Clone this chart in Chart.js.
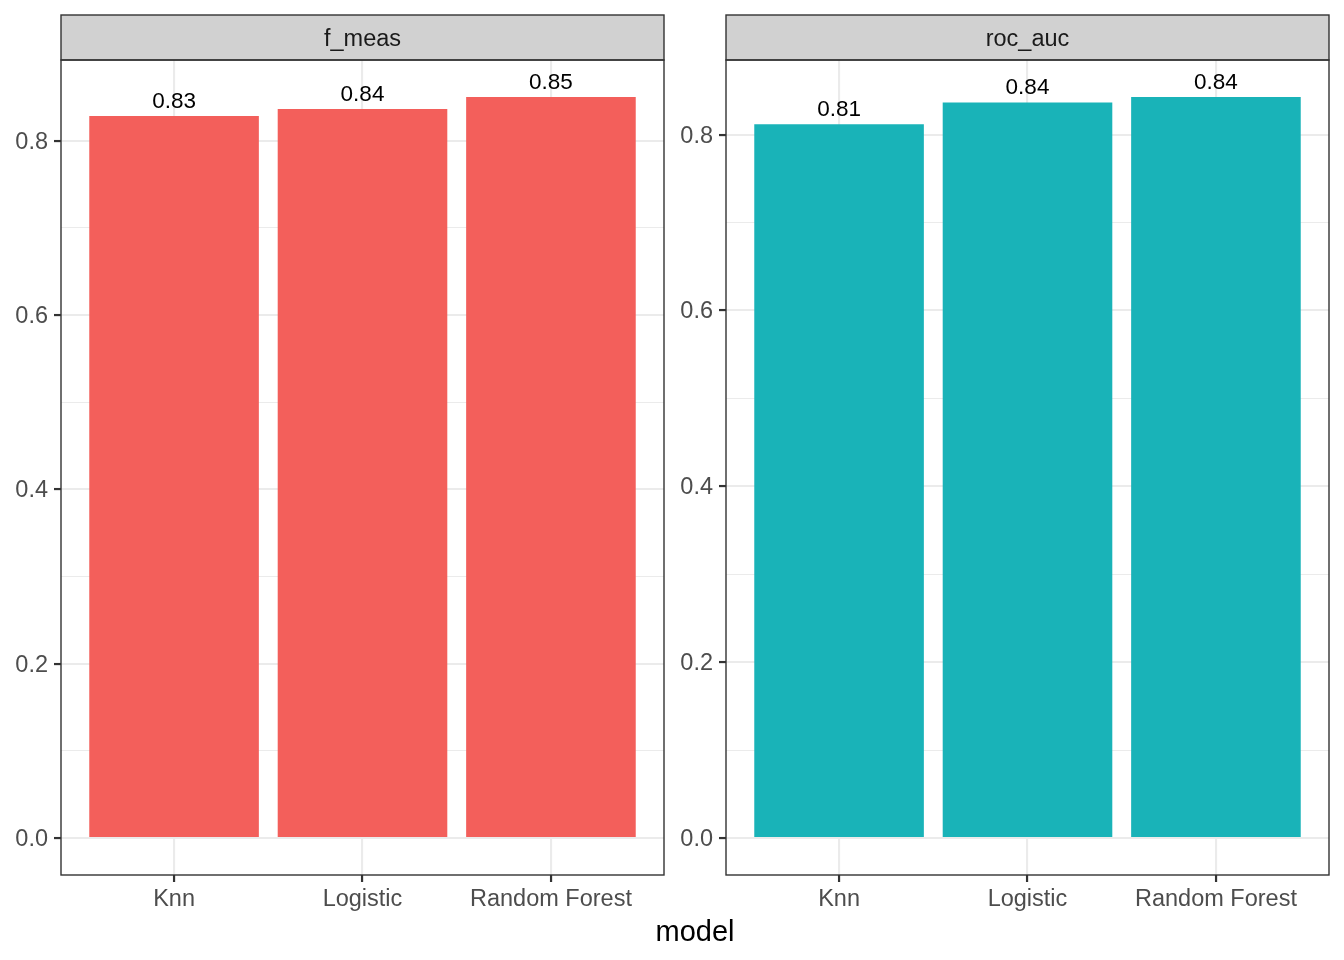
<!DOCTYPE html>
<html><head><meta charset="utf-8">
<script src="https://cdn.jsdelivr.net/npm/chart.js@4.4.1/dist/chart.umd.min.js"></script>
<style>html,body{margin:0;padding:0;background:#fff;} canvas{position:absolute;left:0;top:0;}</style>
</head><body>
<canvas id="c1" width="1344" height="960"></canvas>
<canvas id="c2" width="1344" height="960"></canvas>
<script>
const categories = ['Knn', 'Logistic', 'Random Forest'];
const facetNames = ['f_meas', 'roc_auc'];
const fMeasValues = [0.8285, 0.8366, 0.8503];
const rocAucValues = [0.8118, 0.8367, 0.8428];
const yMajorTicks = [0, 0.2, 0.4, 0.6, 0.8];
const yMinorTicks = [0.1, 0.3, 0.5, 0.7];
const facetColors = ['#F35F5B', '#19B3B8'];
const xTitle = 'model';

const FONT = '"Liberation Sans", Arial, Helvetica, sans-serif';

function makePanel(id, name, values, color, padLeft, padRight, withTitle) {
  const vmax = Math.max(...values);
  const allTicks = yMajorTicks.concat(yMinorTicks).sort((a, b) => a - b);
  const isMajor = v => yMajorTicks.some(m => Math.abs(m - v) < 1e-9);
  const decor = {
    id: 'decor' + id,
    beforeDraw(chart) {
      if (withTitle) {
        const c = chart.ctx;
        c.save(); c.fillStyle = '#fff'; c.fillRect(0, 0, chart.width, chart.height); c.restore();
      }
    },
    afterDatasetsDraw(chart) {
      const c = chart.ctx;
      const meta = chart.getDatasetMeta(0);
      c.save();
      c.fillStyle = '#000';
      c.font = '22.5px ' + FONT;
      c.textAlign = 'center';
      c.textBaseline = 'alphabetic';
      meta.data.forEach((bar, i) => {
        c.fillText(values[i].toFixed(2), bar.x, bar.y - 8);
      });
      c.restore();
    },
    afterDraw(chart) {
      const c = chart.ctx;
      const a = chart.chartArea;
      c.save();
      // strip
      c.fillStyle = '#D1D1D1';
      c.fillRect(a.left, 15, a.right - a.left, a.top - 15);
      c.strokeStyle = '#333333';
      c.lineWidth = 1.4;
      c.strokeRect(a.left, 15, a.right - a.left, a.top - 15);
      // panel border
      c.strokeRect(a.left, a.top, a.right - a.left, a.bottom - a.top);
      c.fillStyle = '#1A1A1A';
      c.font = '23.5px ' + FONT;
      c.textAlign = 'center';
      c.textBaseline = 'middle';
      c.fillText(name, (a.left + a.right) / 2, (15 + a.top) / 2 + 2);
      if (withTitle) {
        c.fillStyle = '#000';
        c.font = '29px ' + FONT;
        c.textBaseline = 'alphabetic';
        c.fillText(xTitle, 695, 941);
      }
      c.restore();
    }
  };
  return new Chart(document.getElementById(id), {
    type: 'bar',
    data: {
      datasets: [{
        data: categories.map((cat, i) => ({ x: i + 1, y: values[i] })),
        backgroundColor: color,
        borderWidth: 0,
        categoryPercentage: 1,
        barPercentage: 0.9
      }]
    },
    options: {
      responsive: false,
      animation: false,
      devicePixelRatio: 1,
      layout: { padding: { left: padLeft, right: padRight, top: 60, bottom: 0 } },
      plugins: { legend: { display: false }, tooltip: { enabled: false } },
      scales: {
        x: {
          type: 'linear',
          min: 0.4, max: 3.6,
          offset: false,
          afterBuildTicks: s => { s.ticks = categories.map((c, i) => ({ value: i + 1 })); },
          afterFit: s => { s.height = 85; },
          border: { display: false },
          grid: { offset: false, color: '#EBEBEB', lineWidth: 2.1, tickLength: 7, tickColor: '#333333', tickWidth: 2.2 },
          ticks: {
            autoSkip: false, maxRotation: 0, padding: 3,
            color: '#4D4D4D', font: { family: FONT, size: 23.5 },
            callback: v => categories[Math.round(v) - 1]
          }
        },
        y: {
          min: -0.05 * vmax, max: 1.05 * vmax,
          afterBuildTicks: s => { s.ticks = allTicks.map(v => ({ value: v })); },
          afterFit: s => { s.width = 61; },
          border: { display: false },
          grid: {
            color: '#EBEBEB',
            lineWidth: ctx => isMajor(ctx.tick.value) ? 2.1 : 1.05,
            tickLength: 7,
            tickColor: ctx => isMajor(ctx.tick.value) ? '#333333' : 'rgba(0,0,0,0)',
            tickWidth: 2.2
          },
          ticks: {
            autoSkip: false, padding: 6, labelOffset: 1.5,
            color: '#4D4D4D', font: { family: FONT, size: 23.5 },
            callback: v => isMajor(v) ? v.toFixed(1) : ''
          }
        }
      }
    },
    plugins: [decor]
  });
}

makePanel('c1', facetNames[0], fMeasValues, facetColors[0], 0, 680, true);
makePanel('c2', facetNames[1], rocAucValues, facetColors[1], 665, 15, false);
</script>
</body></html>
